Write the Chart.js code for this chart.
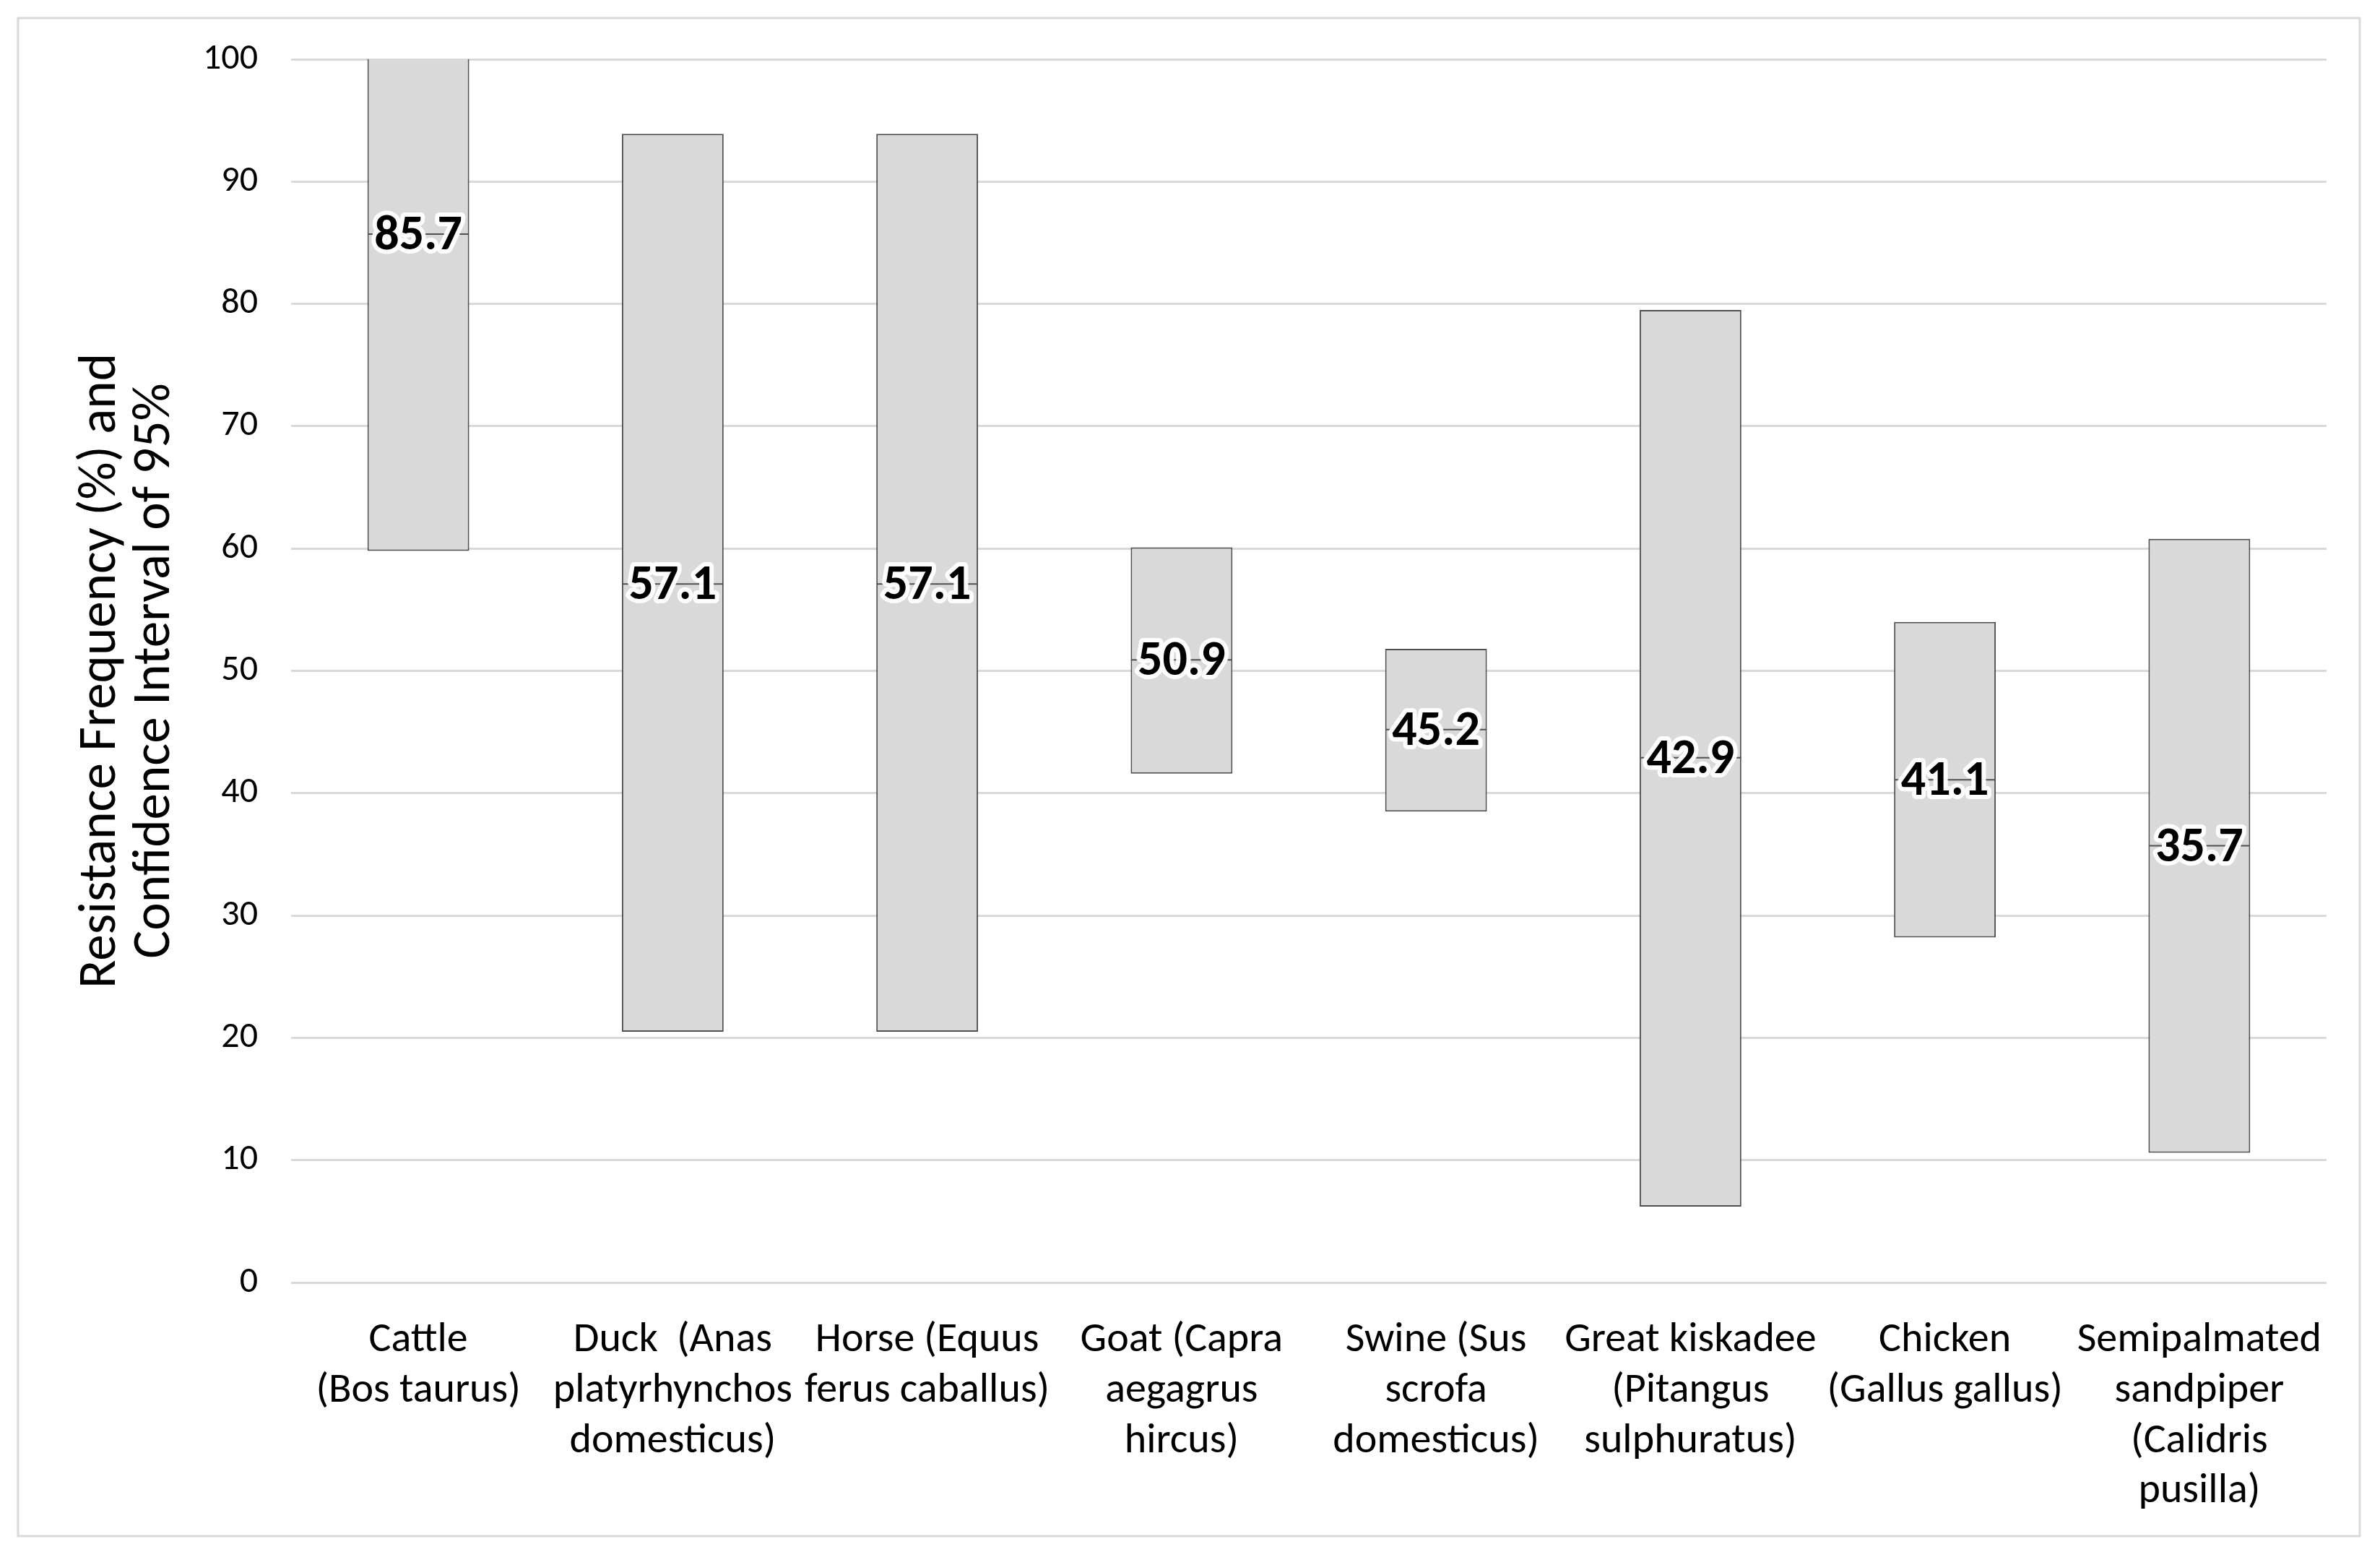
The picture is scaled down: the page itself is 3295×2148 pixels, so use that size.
<!DOCTYPE html>
<html>
<head>
<meta charset="utf-8">
<script src="https://cdn.jsdelivr.net/npm/chart.js@4"></script>
<style>
  html, body { margin: 0; padding: 0; background: #ffffff; }
  #wrap { width: 3295px; height: 2148px; }
</style>
</head>
<body>
<div id="wrap"><canvas id="c" width="3295" height="2148"></canvas></div>
<script>
const categories = [
  ["Cattle", "(Bos taurus)"],
  ["Duck  (Anas", "platyrhynchos", "domesticus)"],
  ["Horse (Equus", "ferus caballus)"],
  ["Goat (Capra", "aegagrus", "hircus)"],
  ["Swine (Sus", "scrofa", "domesticus)"],
  ["Great kiskadee", "(Pitangus", "sulphuratus)"],
  ["Chicken", "(Gallus gallus)"],
  ["Semipalmated", "sandpiper", "(Calidris", "pusilla)"]
];
const ciLower = [59.8, 20.5, 20.5, 41.6, 38.5, 6.2, 28.2, 10.6];
const ciUpper = [100.0, 93.9, 93.9, 60.1, 51.8, 79.5, 54.0, 60.8];
const frequency = [85.7, 57.1, 57.1, 50.9, 45.2, 42.9, 41.1, 35.7];
const yTicks = [0, 10, 20, 30, 40, 50, 60, 70, 80, 90, 100];
const yTitle = ["Resistance Frequency (%) and", "Confidence Interval of 95%"];

const FONT = "Carlito, Calibri, Lato, 'Liberation Sans', sans-serif";

const frame = {
  id: 'frame',
  beforeDraw(chart) {
    const ctx = chart.ctx;
    ctx.save();
    ctx.fillStyle = '#ffffff';
    ctx.fillRect(0, 0, chart.width, chart.height);
    ctx.strokeStyle = '#d9d9d9';
    ctx.lineWidth = 3;
    ctx.strokeRect(25, 25, chart.width - 53, chart.height - 47);
    ctx.restore();
  }
};

const valueLabels = {
  id: 'valueLabels',
  afterDatasetsDraw(chart) {
    const meta = chart.getDatasetMeta(1);
    const ctx = chart.ctx;
    ctx.save();
    ctx.font = "bold 68px " + FONT;
    ctx.textAlign = 'center';
    ctx.textBaseline = 'middle';
    ctx.lineJoin = 'round';
    meta.data.forEach((pt, i) => {
      const txt = frequency[i].toFixed(1);
      ctx.strokeStyle = 'rgba(255,255,255,0.95)';
      ctx.lineWidth = 12;
      ctx.strokeText(txt, pt.x, pt.y + 4);
      ctx.fillStyle = '#000000';
      ctx.fillText(txt, pt.x, pt.y + 4);
    });
    ctx.restore();
  }
};

new Chart(document.getElementById('c'), {
  data: {
    labels: categories,
    datasets: [
      {
        type: 'bar',
        data: ciLower.map((lo, i) => [lo, ciUpper[i]]),
        backgroundColor: '#d9d9d9',
        borderColor: '#505050',
        borderWidth: (c) => ciUpper[c.dataIndex] >= 100
          ? { top: 0, left: 2, right: 2, bottom: 2 } : 2,
        borderSkipped: false,
        barPercentage: 0.4,
        categoryPercentage: 1.0,
        order: 2
      },
      {
        type: 'line',
        data: frequency,
        showLine: false,
        pointStyle: 'line',
        pointRadius: 70,
        pointHoverRadius: 70,
        pointBorderColor: '#505050',
        pointBorderWidth: 2,
        order: 1
      }
    ]
  },
  options: {
    responsive: false,
    animation: false,
    devicePixelRatio: 1,
    layout: { padding: { left: 0, top: 82, right: 74, bottom: 0 } },
    plugins: { legend: { display: false }, tooltip: { enabled: false } },
    scales: {
      x: {
        grid: { display: false, drawTicks: false },
        border: { display: false },
        ticks: {
          color: '#000000',
          font: { family: FONT, size: 58, lineHeight: 1.2 },
          padding: 46,
          maxRotation: 0,
          autoSkip: false
        },
        afterFit(scale) { scale.height = 2148 - 1775; }
      },
      y: {
        min: 0,
        max: 100,
        afterBuildTicks(scale) { scale.ticks = yTicks.map(v => ({ value: v })); },
        grid: { color: '#d9d9d9', lineWidth: 3, drawTicks: false },
        border: { display: false },
        ticks: {
          color: '#000000',
          font: { family: FONT, size: 50 },
          padding: 46
        },
        title: {
          display: true,
          text: yTitle,
          color: '#000000',
          font: { family: FONT, size: 73, lineHeight: 1.02 },
          padding: { top: 104, bottom: 0 }
        },
        afterFit(scale) { scale.width = 403; }
      }
    }
  },
  plugins: [frame, valueLabels]
});
</script>
</body>
</html>
